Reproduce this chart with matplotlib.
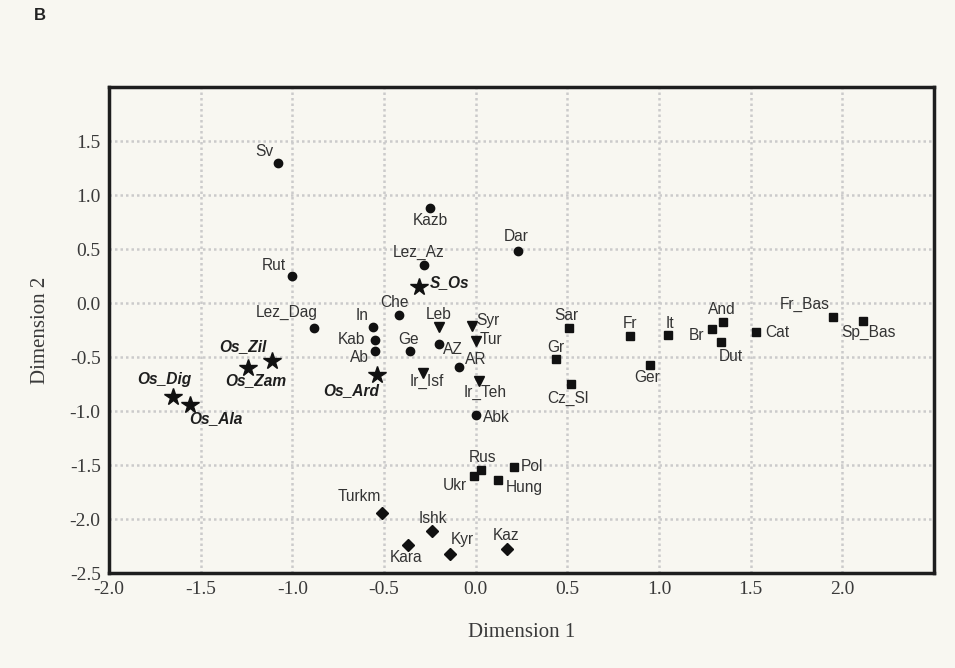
import matplotlib
matplotlib.use("Agg")
import matplotlib.pyplot as plt

# ---- data ----
circle_names = ["Sv", "Kazb", "Dar", "Lez_Az", "Rut", "Che", "Lez_Dag", "In", "Kab", "Ab",
                "Ge", "AZ", "AR", "Abk"]
circle_x = [-1.08, -0.25, 0.23, -0.28, -1.00, -0.42, -0.88, -0.56, -0.55, -0.55,
            -0.36, -0.20, -0.09, 0.00]
circle_y = [1.30, 0.88, 0.48, 0.35, 0.25, -0.11, -0.23, -0.22, -0.34, -0.44,
            -0.44, -0.38, -0.59, -1.04]

tri_names = ["Leb", "Syr", "Tur", "Ir_Isf", "Ir_Teh"]
tri_x = [-0.20, -0.02, 0.00, -0.29, 0.02]
tri_y = [-0.22, -0.21, -0.35, -0.65, -0.72]

star_names = ["S_Os", "Os_Ard", "Os_Zil", "Os_Zam", "Os_Dig", "Os_Ala"]
star_x = [-0.31, -0.54, -1.11, -1.24, -1.65, -1.56]
star_y = [0.15, -0.67, -0.54, -0.60, -0.87, -0.94]

square_names = ["Rus", "Ukr", "Hung", "Pol", "Sar", "Gr", "Cz_Sl", "Fr", "It", "Ger",
                "Br", "And", "Dut", "Cat", "Fr_Bas", "Sp_Bas"]
square_x = [0.03, -0.01, 0.12, 0.21, 0.51, 0.44, 0.52, 0.84, 1.05, 0.95,
            1.29, 1.35, 1.34, 1.53, 1.95, 2.11]
square_y = [-1.55, -1.60, -1.64, -1.52, -0.23, -0.52, -0.75, -0.31, -0.30, -0.57,
            -0.24, -0.18, -0.36, -0.27, -0.13, -0.17]

diamond_names = ["Turkm", "Ishk", "Kara", "Kyr", "Kaz"]
diamond_x = [-0.51, -0.24, -0.37, -0.14, 0.17]
diamond_y = [-1.94, -2.11, -2.24, -2.32, -2.28]

x_ticks = [-2.0, -1.5, -1.0, -0.5, 0.0, 0.5, 1.0, 1.5, 2.0]
y_ticks = [-2.5, -2.0, -1.5, -1.0, -0.5, 0.0, 0.5, 1.0, 1.5]

# ---- label offsets (pixels: dx right, dy up) ----
offsets = {
    "Sv": (-13, 11), "Kazb": (1, -13), "Dar": (-2, 15), "Lez_Az": (-6, 13), "Rut": (-19, 10),
    "S_Os": (31, 4), "Che": (-4, 12), "Lez_Dag": (-28, 15), "In": (-11, 11), "Kab": (-23, 0),
    "Ab": (-15, -7), "Ge": (-1, 11), "AZ": (14, -5), "AR": (17, 7), "Leb": (0, 12),
    "Syr": (16, 5), "Tur": (15, 1), "Ir_Isf": (4, -8), "Ir_Teh": (6, -12), "Abk": (21, -2),
    "Os_Ard": (-25, -15), "Os_Zil": (-29, 15), "Os_Zam": (7, -13), "Os_Dig": (-9, 17),
    "Os_Ala": (26, -14), "Rus": (1, 13), "Ukr": (-19, -10), "Hung": (27, -7), "Pol": (18, 1),
    "Turkm": (-23, 16), "Ishk": (1, 12), "Kara": (-2, -13), "Kyr": (12, 14), "Kaz": (-1, 14),
    "Sar": (-3, 12), "Gr": (-1, 12), "Cz_Sl": (-3, -14), "Fr": (0, 13), "It": (2, 12),
    "Ger": (-3, -13), "Br": (-16, -7), "And": (-1, 13), "Dut": (9, -15), "Cat": (21, 0),
    "Fr_Bas": (-28, 13), "Sp_Bas": (6, -11),
}

bg = "#f8f7f1"
fig = plt.figure(figsize=(9.55, 6.68), dpi=100, facecolor=bg)
ax = fig.add_axes([109/955, 1-573/668, (934-109)/955, (573-87)/668])
ax.set_facecolor(bg)

mk = dict(color="#111111", linestyle="none", zorder=3)
ax.plot(circle_x, circle_y, marker="o", markersize=6, **mk)
ax.plot(tri_x, tri_y, marker="v", markersize=7, **mk)
ax.plot(star_x, star_y, marker="*", markersize=13, **mk)
ax.plot(square_x, square_y, marker="s", markersize=5.8, **mk)
ax.plot(diamond_x, diamond_y, marker="D", markersize=6, **mk)

def label(names, xs, ys, bold_italic=False):
    for n, x, y in zip(names, xs, ys):
        dx, dy = offsets[n]
        kw = dict(fontsize=11.2, family="Liberation Sans", color="#333333")
        if bold_italic:
            kw.update(fontweight="bold", fontstyle="italic", color="#1e1e1e")
        ax.annotate(n, (x, y), xytext=(dx, dy), textcoords="offset pixels",
                    ha="center", va="center", zorder=4, **kw)

label(circle_names, circle_x, circle_y)
label(tri_names, tri_x, tri_y)
label(star_names, star_x, star_y, bold_italic=True)
label(square_names, square_x, square_y)
label(diamond_names, diamond_x, diamond_y)

ax.set_xlim(-2.0, 2.5)
ax.set_ylim(-2.5, 2.0)
ax.set_xticks(x_ticks)
ax.set_yticks(y_ticks)
ax.set_xticklabels([f"{v:.1f}" for v in x_ticks])
ax.set_yticklabels([f"{v:.1f}" for v in y_ticks])
ax.tick_params(length=0, pad=6, labelsize=14, colors="#3a3a3a")
for t in ax.get_xticklabels() + ax.get_yticklabels():
    t.set_family("Liberation Serif")

ax.grid(True, color="#cbcbcb", linestyle=(0, (1, 1.2)), linewidth=1.8, zorder=0)
for s in ax.spines.values():
    s.set_linewidth(2.5)
    s.set_color("#1e1e1e")

ax.set_xlabel("Dimension 1", family="Liberation Serif", fontsize=15, color="#3a3a3a", labelpad=18)
ax.set_ylabel("Dimension 2", family="Liberation Serif", fontsize=15, color="#3a3a3a", labelpad=14)

fig.text(40/955, 1-16/668, "B", fontsize=12, fontweight="bold", family="Liberation Sans",
         color="#222222", ha="center", va="center")

fig.savefig("out.png", dpi=100, facecolor=bg)
